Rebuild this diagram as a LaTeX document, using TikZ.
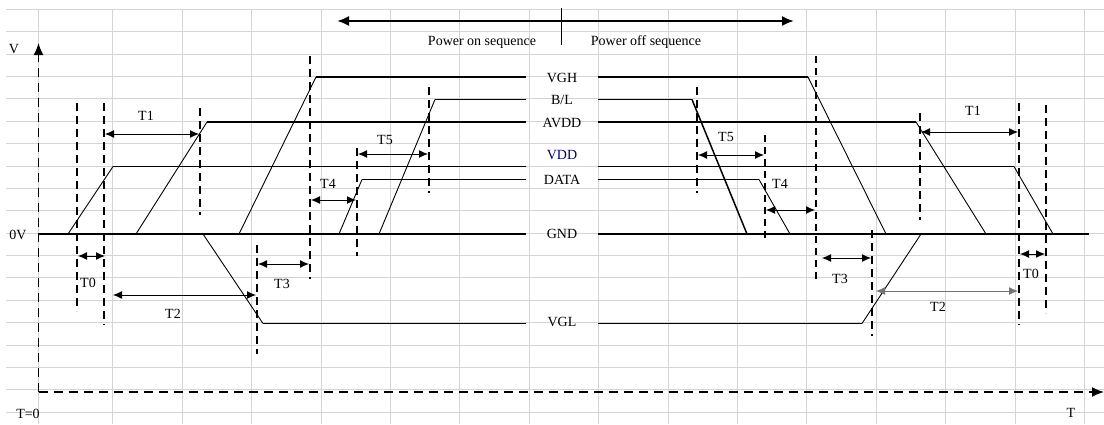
\documentclass[tikz,border=0pt]{standalone}
\usepackage{fontspec}
\setmainfont{Liberation Serif}
\usetikzlibrary{arrows.meta}
\tikzset{
  gridline/.style={color=black!17,line width=0.8pt},
  level/.style={line width=1.8pt},
  slope/.style={line width=0.9pt},
  marker/.style={line width=2pt,dash pattern=on 8pt off 5pt},
  thinmarker/.style={line width=1.1pt,dash pattern=on 7pt off 5pt},
  axis/.style={line width=1.5pt,dash pattern=on 9pt off 6pt,-{Latex[length=12pt,width=10pt]}},
  dim/.style={{Latex[length=9pt,width=8pt]}-{Latex[length=9pt,width=8pt]},line width=1pt},
  lbl/.style={inner sep=0pt,font=\fontsize{14}{16}\selectfont},
}
\begin{document}
\begin{tikzpicture}[x=1pt,y=-1pt]
  \useasboundingbox (0,0) rectangle (1104,424);
  \foreach \k in {0,...,18}
     \draw[gridline] (6,{9.3+22.38*\k}) -- (1104,{9.3+22.38*\k});
  \foreach \k in {0,...,14}
     \draw[gridline] ({112.7+69.4*\k},9.3) -- ({112.7+69.4*\k},424);
  \draw[gridline] (38.5,9.3) -- (38.5,424);

  \draw[axis] (38.5,392) -- (38.5,43);
  \draw[axis] (38.5,392) -- (1104,392);
  \node[lbl] (vaxis) at (14,49) {V};
  \node[lbl] (zerov) at (18,235) {0V};
  \node[lbl] (tzero) at (28,414) {T=0};
  \node[lbl] (taxis) at (1071,413) {T};

  \draw[{Latex[length=12pt,width=10pt]}-{Latex[length=12pt,width=10pt]},line width=2pt] (337,21) -- (794,21);
  \draw[line width=1pt] (561,8) -- (561,45);
  \node[lbl] (pon) at (482,42) {Power on sequence};
  \node[lbl] (poff) at (646,42) {Power off sequence};

  \draw[level] (38.5,234) -- (526,234);
  \draw[level] (598,234) -- (1089,234);
  \node[lbl] (gnd) at (562,234) {GND};

  \draw[slope] (239,234) -- (316,77);
  \draw[level] (316,77) -- (526,77);
  \draw[level] (598,77) -- (808,77);
  \draw[slope] (808,77) -- (886,234);
  \node[lbl] (vgh) at (562,78) {VGH};

  \draw[slope] (379,234) -- (435,99.5);
  \draw[level] (435,99.5) -- (526,99.5);
  \draw[level] (598,99.5) -- (692,99.5);
  \draw[line width=1.5pt] (692,99.5) -- (747,234);
  \node[lbl] (bl) at (562,100) {B/L};

  \draw[slope] (136,234) -- (207,122);
  \draw[level] (207,122) -- (526,122);
  \draw[level] (598,122) -- (916,122);
  \draw[slope] (916,122) -- (986,234);
  \node[lbl] (avdd) at (562,123) {AVDD};

  \draw[slope] (68,234) -- (113,166.5);
  \draw[level] (113,166.5) -- (526,166.5);
  \draw[level] (598,166.5) -- (1014,166.5);
  \draw[slope] (1014,166.5) -- (1053,234);
  \node[lbl,color=blue!45!black] (vdd) at (562,155) {VDD};

  \draw[slope] (339,234) -- (362,179.5);
  \draw[level] (362,179.5) -- (526,179.5);
  \draw[level] (598,179.5) -- (759,179.5);
  \draw[slope] (759,179.5) -- (790,234);
  \node[lbl] (data) at (562,180) {DATA};

  \draw[slope] (203,234) -- (263,323.5);
  \draw[level] (263,323.5) -- (526,323.5);
  \draw[level] (598,323.5) -- (862,323.5);
  \draw[slope] (862,323.5) -- (921,234);
  \node[lbl] (vgl) at (562,322) {VGL};

  \draw[marker,line width=1.6pt] (77,103) -- (77,311);
  \draw[marker] (104,103) -- (104,325);
  \draw[marker] (200,108) -- (200,215);
  \draw[marker] (257,245) -- (257,354);
  \draw[marker] (310,56) -- (310,279);
  \draw[marker] (357,148) -- (357,256);
  \draw[marker] (429,87) -- (429,193);
  \draw[marker] (697,87) -- (697,193);
  \draw[thinmarker] (765,135) -- (765,242);
  \draw[thinmarker] (816,56) -- (816,279);
  \draw[marker] (872,230) -- (872,336);
  \draw[marker] (920,113) -- (920,220);
  \draw[marker] (1019,103) -- (1019,325);
  \draw[marker] (1046,105) -- (1046,313);

  \draw[dim] (105,134) -- (199,134);
  \node[lbl] (t1a) at (146,116) {T1};
  \draw[dim] (78,256) -- (105,256);
  \node[lbl] (t0a) at (88,283) {T0};
  \draw[dim] (113,295) -- (256,295);
  \node[lbl] (t2a) at (173,314) {T2};
  \draw[dim] (258,264) -- (309,264);
  \node[lbl] (t3a) at (282,284) {T3};
  \draw[dim] (311,200) -- (356,200);
  \node[lbl] (t4a) at (328,184) {T4};
  \draw[dim] (358,154) -- (428,154);
  \node[lbl] (t5a) at (385,140) {T5};

  \draw[dim] (698,155) -- (764,155);
  \node[lbl] (t5b) at (726,137) {T5};
  \draw[dim] (766,210) -- (815,210);
  \node[lbl] (t4b) at (780,184) {T4};
  \draw[dim] (822,258) -- (871,258);
  \node[lbl] (t3b) at (840,279) {T3};
  \draw[dim,color=black!55] (876,291) -- (1018,291);
  \node[lbl] (t2b) at (938,307) {T2};
  \draw[dim] (921,132) -- (1018,132);
  \node[lbl] (t1b) at (973,111) {T1};
  \draw[dim] (1020,254) -- (1045,254);
  \node[lbl] (t0b) at (1031,274) {T0};
\end{tikzpicture}
\end{document}
